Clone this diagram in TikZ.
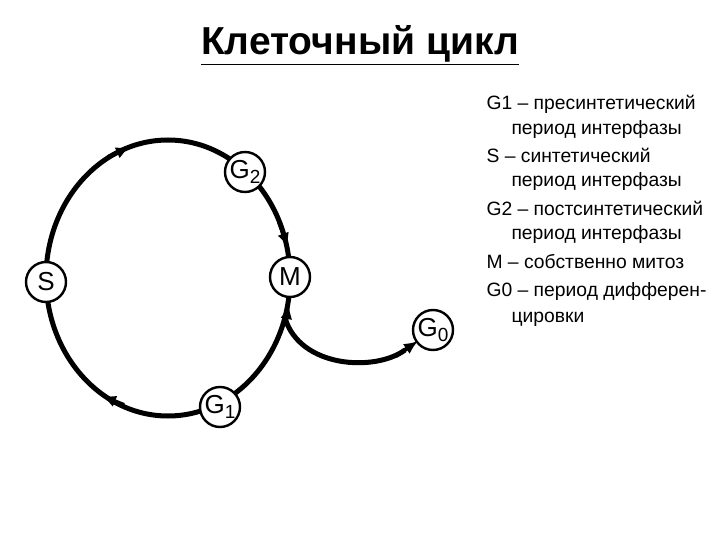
\documentclass[tikz,border=0pt]{standalone}
\usepackage{fontspec}
\setmainfont{Liberation Sans}
\usetikzlibrary{arrows.meta}
\begin{document}
\begin{tikzpicture}[x=1pt,y=-1pt,
  ph/.style={circle,draw,line width=2.4pt,fill=white,minimum size=40pt,inner sep=0pt,font=\fontsize{26}{26}\selectfont},
  cyc/.style={line width=5pt},
  tip/.style={line width=4pt,-{Latex[length=14pt,width=12pt]}},
  lst/.style={anchor=base west,font=\fontsize{19.3}{22}\selectfont}]
\useasboundingbox (0,0) rectangle (720,540);
\draw[cyc] (168,278) ellipse [x radius=122,y radius=138];
\draw[tip] (108,157) -- (130,147);
\draw[tip] (279,222) -- (288,247);
\draw[tip] (124,405) -- (102,396);
\draw[tip] (285,326) -- (289,305);
\draw[cyc] (285,318) .. controls (300,368) and (375,372) .. (405,350);
\draw[tip] (396,356) -- (418,341);
\node[ph] (s) at (46,282) {S};
\node[ph] (g2) at (245,172) {G\raisebox{-5pt}{\fontsize{19}{19}\selectfont 2}};
\node[ph] (m) at (290,277) {M};
\node[ph] (g1) at (220,407) {G\raisebox{-5pt}{\fontsize{19}{19}\selectfont 1}};
\node[ph] (g0) at (433,330) {G\raisebox{-5pt}{\fontsize{19}{19}\selectfont 0}};
\node[font=\bfseries\fontsize{39}{44}\selectfont] (t) at (360,45) {\underline{Клеточный цикл}};
\node[lst] (l1) at (483,110) {G1 – пресинтетический};
\node[lst] (l2) at (508,135) {период интерфазы};
\node[lst] (l3) at (483,163) {S – синтетический};
\node[lst] (l4) at (508,187) {период интерфазы};
\node[lst] (l5) at (483,215) {G2 – постсинтетический};
\node[lst] (l6) at (508,240) {период интерфазы};
\node[lst] (l7) at (483,268) {M – собственно митоз};
\node[lst] (l8) at (483,296) {G0 – период дифферен-};
\node[lst] (l9) at (508,322) {цировки};
\end{tikzpicture}
\end{document}
